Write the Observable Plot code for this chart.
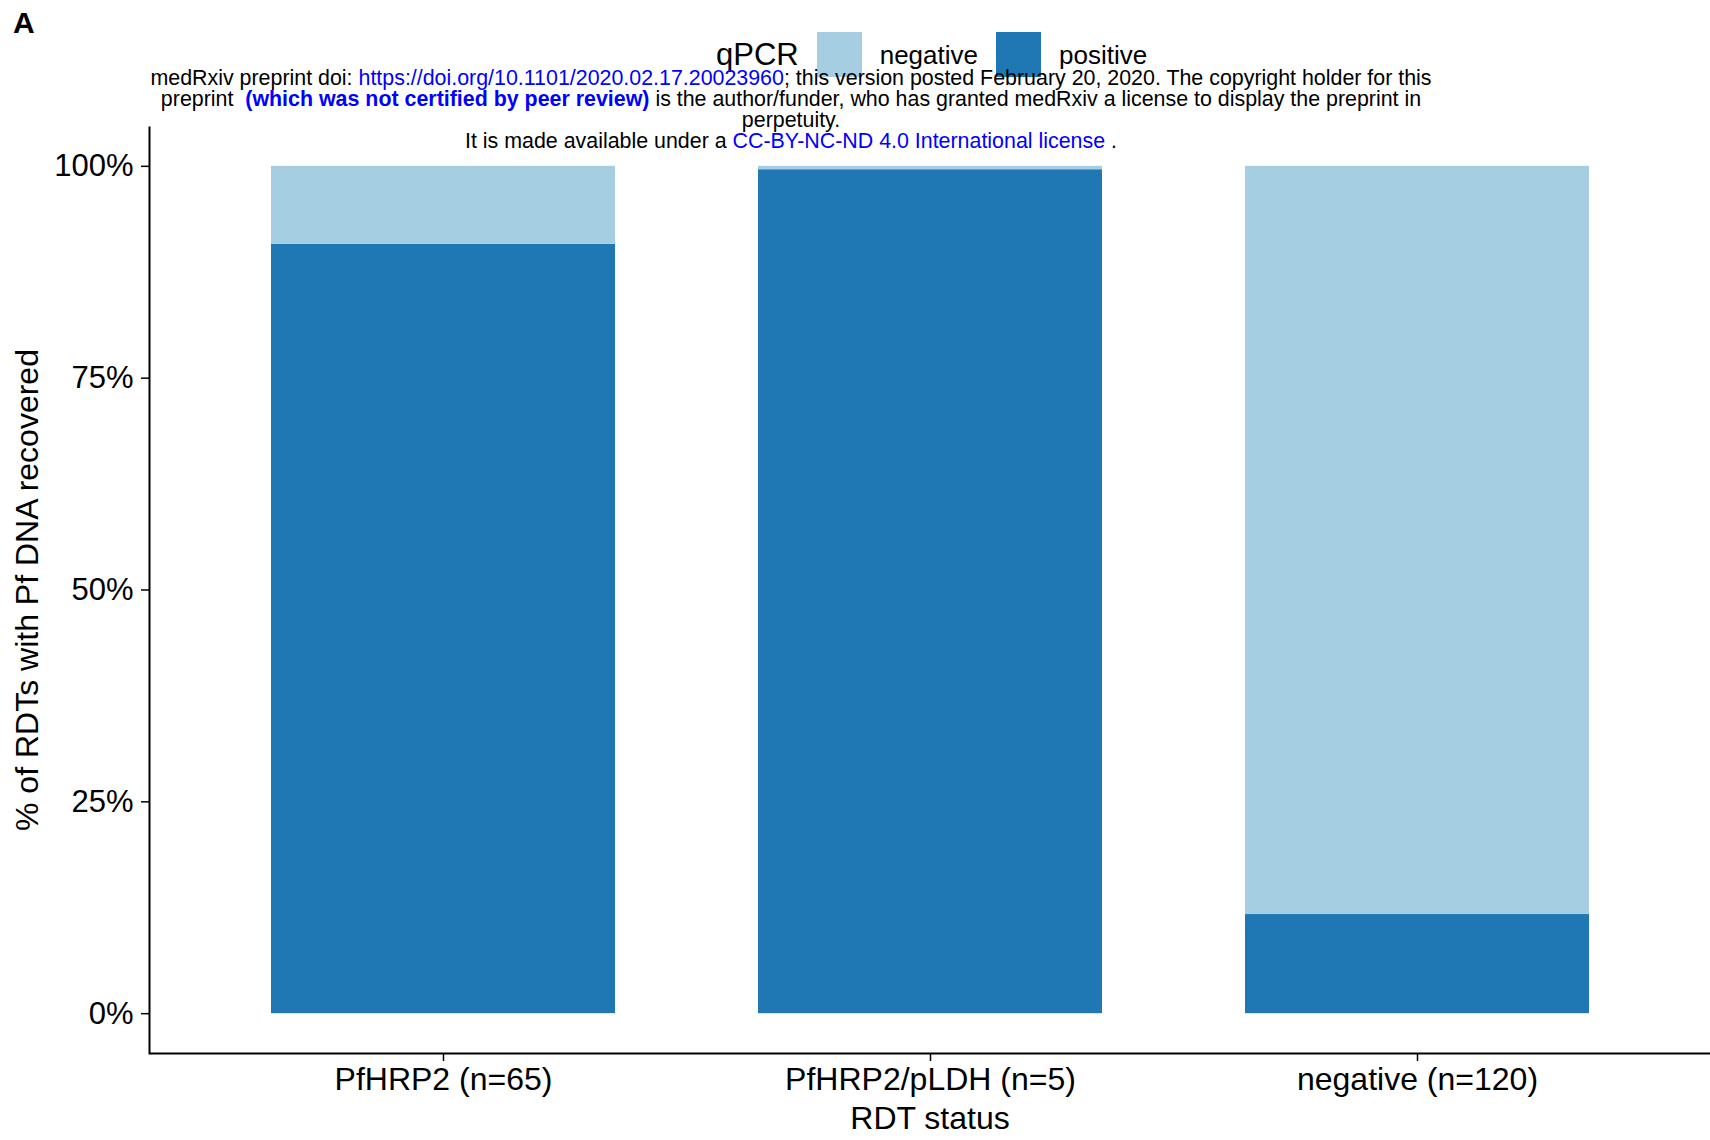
<!DOCTYPE html>
<html>
<head>
<meta charset="utf-8">
<script src="https://cdn.jsdelivr.net/npm/d3@7"></script>
<script src="https://cdn.jsdelivr.net/npm/@observablehq/plot@0.6"></script>
<style>
  html, body { margin: 0; padding: 0; background: white; }
  #wrap { position: relative; width: 1710px; height: 1140px; overflow: hidden;
          font-family: "Liberation Sans", Arial, Helvetica, sans-serif; color: black; }
  #wrap svg { position: absolute; left: 0; top: 0; }
  .ov { position: absolute; }
  #panel { left: 13px; top: 7.6px; font-size: 30px; font-weight: bold; line-height: 30px; }
  #legend { left: 716px; top: 32px; height: 45px; display: flex; align-items: center; gap: 18px;
            font-size: 26px; line-height: 1; }
  #legend .lt { font-size: 31px; }
  .sw { width: 45px; height: 45px; }
  #wm { left: 0; top: 67.6px; width: 1582px; text-align: center; font-size: 21.4px; }
  #wm div { height: 21px; line-height: 21px; white-space: nowrap; }
  .lk { color: #0000ff; }
  .b { font-weight: bold; }
</style>
</head>
<body>
<div id="wrap"></div>
<script>
// ---- data ----
const categories = ["PfHRP2 (n=65)", "PfHRP2/pLDH (n=5)", "negative (n=120)"];
const qpcrLevels = ["negative", "positive"];
const positivePct = [90.8, 99.6, 11.7];
const negativePct = [9.2, 0.4, 88.3];
const yTicks = [0, 25, 50, 75, 100];
const yTickLabels = ["0%", "25%", "50%", "75%", "100%"];
const xTitle = "RDT status";
const yTitle = "% of RDTs with Pf DNA recovered";
const legendTitle = "qPCR";

const rows = [];
categories.forEach((c, i) => {
  rows.push({rdt: c, qpcr: "positive", pct: positivePct[i]});
  rows.push({rdt: c, qpcr: "negative", pct: negativePct[i]});
});

const W = 1710, H = 1140, mL = 149, mR = 0, mT = 126, mB = 87;
const fw = W - mL - mR, fh = H - mT - mB;

const plot = Plot.plot({
  width: W, height: H,
  marginLeft: mL, marginRight: mR, marginTop: mT, marginBottom: mB,
  style: {fontFamily: '"Liberation Sans", Arial, Helvetica, sans-serif', color: "black", background: "transparent"},
  x: {type: "band", domain: categories, paddingInner: 0.294, paddingOuter: 0.247, label: null},
  y: {domain: [-4.7, 104.7], label: null},
  color: {domain: qpcrLevels, range: ["#a6cee3", "#1f78b4"]},
  marks: [
    Plot.barY(rows, {x: "rdt", y: "pct", fill: "qpcr"}),
    Plot.frame({stroke: "black", strokeWidth: 2, strokeDasharray: `0 ${fw + fh} ${fw + fh}`}),
    Plot.axisY({ticks: yTicks, tickFormat: (d) => yTickLabels[yTicks.indexOf(d)],
                tickSize: 8, tickPadding: 8, fontSize: 31, strokeWidth: 1.5, label: null}),
    Plot.axisX({tickSize: 8, tickPadding: 6, fontSize: 32, strokeWidth: 1.5, label: null}),
    Plot.text([xTitle], {text: (d) => d, frameAnchor: "bottom", lineAnchor: "middle", dy: 65, fontSize: 32}),
    Plot.text([yTitle], {text: (d) => d, frameAnchor: "left", textAnchor: "middle", lineAnchor: "middle",
                         dx: -122, rotate: -90, fontSize: 32})
  ]
});

const wrap = document.getElementById("wrap");
wrap.appendChild(plot);

const color = plot.scale("color");
const col = (v) => color.range[color.domain.indexOf(v)];

// panel letter
const panel = document.createElement("div");
panel.className = "ov"; panel.id = "panel"; panel.textContent = "A";
wrap.appendChild(panel);

// legend
const legend = document.createElement("div");
legend.className = "ov"; legend.id = "legend";
const lt = document.createElement("span"); lt.className = "lt"; lt.textContent = legendTitle; legend.appendChild(lt);
qpcrLevels.forEach((lv) => {
  const sw = document.createElement("span"); sw.className = "sw"; sw.style.background = col(lv);
  legend.appendChild(sw);
  const t = document.createElement("span"); t.textContent = lv; legend.appendChild(t);
});
wrap.appendChild(legend);

// watermark
const wm = document.createElement("div");
wm.className = "ov"; wm.id = "wm";
wm.innerHTML =
  '<div>medRxiv preprint doi: <span class="lk">https://doi.org/10.1101/2020.02.17.20023960</span>; this version posted February 20, 2020. The copyright holder for this</div>' +
  '<div>preprint &nbsp;<span class="lk b">(which was not certified by peer review)</span> is the author/funder, who has granted medRxiv a license to display the preprint in</div>' +
  '<div>perpetuity.</div>' +
  '<div>It is made available under a <span class="lk">CC-BY-NC-ND 4.0 International license</span> .</div>';
wrap.appendChild(wm);
</script>
</body>
</html>
